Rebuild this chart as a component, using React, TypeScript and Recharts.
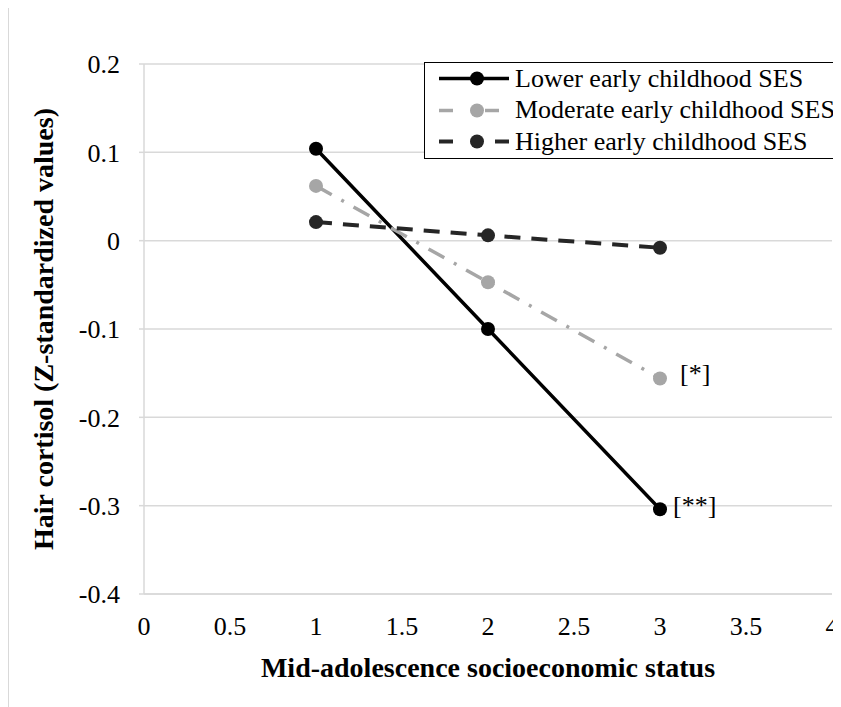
import { LineChart, Line, XAxis, YAxis, CartesianGrid, Legend, LabelList, Label } from "recharts";

const ses = [1, 2, 3];
const lower = [0.104, -0.1, -0.304];
const moderate = [0.062, -0.047, -0.156];
const higher = [0.021, 0.006, -0.008];
const lowerNotes = ["", "", "[**]"];
const moderateNotes = ["", "", "[*]"];

const xTicks = [0, 0.5, 1, 1.5, 2, 2.5, 3, 3.5, 4];
const yTicks = [-0.4, -0.3, -0.2, -0.1, 0, 0.1, 0.2];

const FONT = "'Liberation Serif', 'Times New Roman', serif";

const data = ses.map((x, i) => ({
  x,
  lower: lower[i],
  moderate: moderate[i],
  higher: higher[i],
  lowerNote: lowerNotes[i],
  moderateNote: moderateNotes[i],
}));

const series = [
  { key: "lower", name: "Lower early childhood SES", color: "#000000", dash: undefined, width: 3.5, legendSegs: [[14, 84]] },
  { key: "moderate", name: "Moderate early childhood SES", color: "#a6a6a6", dash: "18 11 3 11", width: 3.5, legendSegs: [[14, 28], [60, 74]] },
  { key: "higher", name: "Higher early childhood SES", color: "#262626", dash: "16 11", width: 4, legendSegs: [[14, 28], [70, 84]] },
];

function LegendBox() {
  return (
    <div
      style={{
        border: "1.5px solid #000",
        background: "#fff",
        width: 417,
        height: 97,
        boxSizing: "border-box",
        fontFamily: FONT,
        fontSize: 26,
        color: "#000",
      }}
    >
      {series.map((s) => (
        <div key={s.key} style={{ display: "flex", alignItems: "center", height: 31.5, whiteSpace: "nowrap" }}>
          <svg width={86} height={31} style={{ flex: "none" }}>
            {s.legendSegs.map(([a, b], i) => (
              <line key={i} x1={a} x2={b} y1={15.5} y2={15.5} stroke={s.color} strokeWidth={s.width} />
            ))}
            <circle cx={52} cy={15.5} r={7} fill={s.color} />
          </svg>
          <span style={{ marginLeft: 4 }}>{s.name}</span>
        </div>
      ))}
    </div>
  );
}

export default function App() {
  return (
    <div style={{ position: "relative", width: 833, height: 699, fontFamily: FONT }}>
      <div
        style={{
          position: "absolute",
          left: 0,
          top: -1,
          width: 833,
          height: 700,
          borderTop: "1px solid #d9d9d9",
          borderLeft: "1px solid #d9d9d9",
          boxSizing: "border-box",
        }}
      />
      <LineChart
        width={833}
        height={699}
        data={data}
        margin={{ top: 56, right: 9, left: 0, bottom: 33 }}
        style={{ fontFamily: FONT }}
      >
        <CartesianGrid vertical={false} stroke="#d9d9d9" strokeWidth={1.5} />
        <XAxis
          dataKey="x"
          type="number"
          domain={[0, 4]}
          ticks={xTicks}
          height={80}
          axisLine={{ stroke: "#d9d9d9", strokeWidth: 1.5 }}
          tickLine={false}
          tickSize={0}
          tickMargin={23}
          tick={{ fill: "#000", fontSize: 26, fontFamily: FONT }}
        >
          <Label
            content={({ viewBox }: any) => (
              <text
                x={viewBox.x + viewBox.width / 2}
                y={659}
                textAnchor="middle"
                dominantBaseline="central"
                fontFamily={FONT}
                fontSize={28}
                fontWeight="bold"
                fill="#000"
              >
                Mid-adolescence socioeconomic status
              </text>
            )}
          />
        </XAxis>
        <YAxis
          type="number"
          domain={[-0.4, 0.2]}
          ticks={yTicks}
          width={136}
          axisLine={{ stroke: "#d9d9d9", strokeWidth: 1.5 }}
          tickLine={{ stroke: "#d9d9d9", strokeWidth: 1.5 }}
          tickSize={5}
          tickMargin={19}
          tick={{ fill: "#000", fontSize: 26, fontFamily: FONT }}
        >
          <Label
            content={({ viewBox }: any) => {
              const cy = viewBox.y + viewBox.height / 2;
              return (
                <text
                  x={35}
                  y={cy}
                  transform={`rotate(-90 35 ${cy})`}
                  textAnchor="middle"
                  dominantBaseline="central"
                  fontFamily={FONT}
                  fontSize={28}
                  fontWeight="bold"
                  fill="#000"
                >
                  Hair cortisol (Z-standardized values)
                </text>
              );
            }}
          />
        </YAxis>
        <Legend
          layout="horizontal"
          verticalAlign="middle"
          align="center"
          content={() => <LegendBox />}
          wrapperStyle={{ position: "absolute", left: 416, top: 54, width: 417, height: 97 }}
        />
        {series.map((s) => (
          <Line
            key={s.key}
            type="linear"
            dataKey={s.key}
            name={s.name}
            stroke={s.color}
            strokeWidth={s.width}
            strokeDasharray={s.dash}
            dot={{ r: 7, fill: s.color, stroke: s.color, strokeWidth: 0 }}
            activeDot={false}
            isAnimationActive={false}
          >
            {s.key === "lower" && (
              <LabelList dataKey="lowerNote" position="right" offset={13} dy={-4} fill="#000" fontSize={26} fontFamily={FONT} />
            )}
            {s.key === "moderate" && (
              <LabelList dataKey="moderateNote" position="right" offset={20} dy={-6} fill="#000" fontSize={26} fontFamily={FONT} />
            )}
          </Line>
        ))}
      </LineChart>
    </div>
  );
}
